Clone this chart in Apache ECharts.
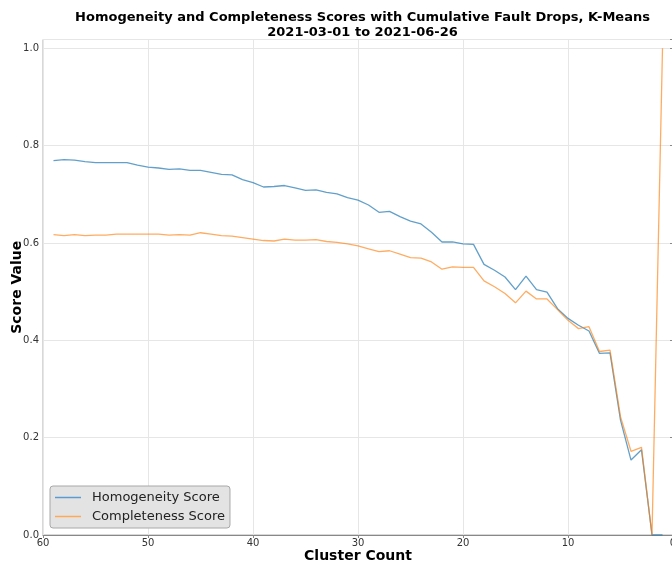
<!DOCTYPE html>
<html>
<head>
<meta charset="utf-8">
<script src="https://cdn.jsdelivr.net/npm/echarts@6/dist/echarts.min.js"></script>
<style>
html,body{margin:0;padding:0;background:#fff;}
#chart{width:672px;height:562px;}
</style>
</head>
<body>
<div id="chart"></div>
<script>
const clusterCounts = [59,58,57,56,55,54,53,52,51,50,49,48,47,46,45,44,43,42,41,40,39,38,37,36,35,34,33,32,31,30,29,28,27,26,25,24,23,22,21,20,19,18,17,16,15,14,13,12,11,10,9,8,7,6,5,4,3,2,1];
const homogeneity = [0.769,0.771,0.770,0.767,0.765,0.765,0.765,0.765,0.760,0.756,0.754,0.751,0.752,0.749,0.749,0.745,0.741,0.740,0.730,0.724,0.715,0.716,0.718,0.713,0.708,0.709,0.704,0.701,0.693,0.688,0.678,0.663,0.665,0.654,0.645,0.639,0.622,0.602,0.602,0.598,0.597,0.556,0.544,0.530,0.504,0.532,0.504,0.499,0.465,0.445,0.431,0.419,0.373,0.374,0.236,0.154,0.175,0.0,0.0];
const completeness = [0.617,0.615,0.617,0.615,0.616,0.616,0.618,0.618,0.618,0.618,0.618,0.616,0.617,0.616,0.621,0.618,0.615,0.614,0.611,0.608,0.605,0.604,0.608,0.606,0.606,0.607,0.603,0.601,0.598,0.594,0.588,0.582,0.584,0.577,0.570,0.569,0.561,0.546,0.551,0.550,0.550,0.522,0.510,0.496,0.477,0.501,0.485,0.485,0.463,0.441,0.424,0.428,0.377,0.380,0.243,0.172,0.180,0.0,1.0];
const seriesNames = ['Homogeneity Score','Completeness Score'];
const titleLines = ['Homogeneity and Completeness Scores with Cumulative Fault Drops, K-Means','2021-03-01 to 2021-06-26'];

const pair = (ys) => clusterCounts.map((x, i) => [x, ys[i]]);
const font = 'DejaVu Sans';

const chart = echarts.init(document.getElementById('chart'), null, {renderer:'canvas'});
chart.setOption({
  animation: false,
  backgroundColor: '#ffffff',
  title: {
    text: titleLines.join('\n'),
    left: 357.5,
    top: 5,
    textAlign: 'center',
    textStyle: {fontFamily: font, fontSize: 13, fontWeight: 'bold', color: '#000', lineHeight: 15}
  },
  grid: {
    left: 43, right: -1, top: 39.5, bottom: 27,
    outerBoundsMode: 'none',
    show: true, borderColor: '#b0b0b0', borderWidth: 1, backgroundColor: 'transparent',
    containLabel: false
  },
  legend: {
    orient: 'vertical',
    left: 50, top: 486,
    data: seriesNames,
    icon: 'rect',
    itemWidth: 26, itemHeight: 1.5,
    itemGap: 6,
    padding: [5, 5, 5, 5],
    backgroundColor: '#e3e3e3',
    borderColor: '#a8a8a8', borderWidth: 1, borderRadius: 3,
    textStyle: {fontFamily: font, fontSize: 13, color: '#222', padding: [0, 0, 0, 6]}
  },
  xAxis: {
    type: 'value', min: 0, max: 60, interval: 10, inverse: true,
    name: 'Cluster Count', nameLocation: 'middle', nameGap: 14, nameMoveOverlap: false,
    nameTextStyle: {fontFamily: font, fontSize: 14, fontWeight: 'bold', color: '#000'},
    axisLine: {show: true, onZero: false, lineStyle: {color: '#888', width: 1.2}},
    axisTick: {show: true, length: 3, lineStyle: {color: '#888'}},
    axisLabel: {fontFamily: font, fontSize: 10, color: '#333', margin: 3},
    splitLine: {show: true, lineStyle: {color: '#e6e6e6', width: 1}}
  },
  yAxis: {
    type: 'value', min: 0, max: 1.018, interval: 0.2,
    name: 'Score Value', nameLocation: 'middle', nameGap: 19, nameMoveOverlap: false,
    nameTextStyle: {fontFamily: font, fontSize: 14, fontWeight: 'bold', color: '#000'},
    axisLine: {show: true, lineStyle: {color: '#888', width: 1.2}},
    axisTick: {show: true, length: 3, lineStyle: {color: '#888'}},
    axisLabel: {fontFamily: font, fontSize: 10, color: '#333', margin: 4,
      formatter: (v) => (Math.abs(v * 5 - Math.round(v * 5)) < 1e-6 ? v.toFixed(1) : '')},
    splitLine: {show: true, lineStyle: {color: '#e6e6e6', width: 1}}
  },
  series: [
    {
      name: seriesNames[0], type: 'line', data: pair(homogeneity),
      showSymbol: false, symbol: 'none', clip: true,
      color: '#5a9bd0',
      lineStyle: {color: '#1f77b4', width: 1.3, opacity: 0.7}
    },
    {
      name: seriesNames[1], type: 'line', data: pair(completeness),
      showSymbol: false, symbol: 'none', clip: true,
      color: '#ffa857',
      lineStyle: {color: '#ff7f0e', width: 1.3, opacity: 0.65}
    }
  ]
});
</script>
</body>
</html>
